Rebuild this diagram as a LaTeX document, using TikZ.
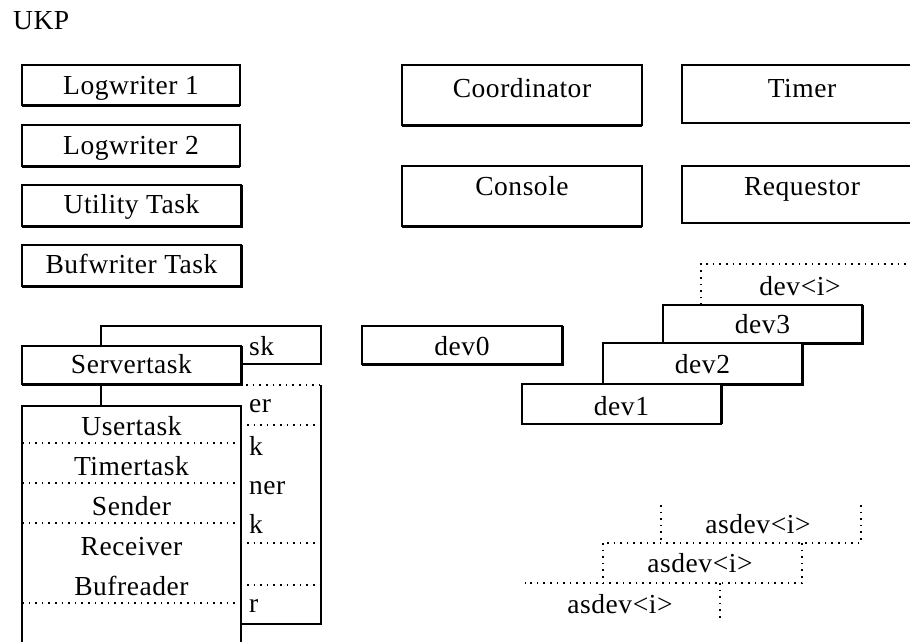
\documentclass[tikz,border=0pt]{standalone}
\usepackage{fontspec}
\setmainfont{Liberation Serif}[LetterSpace=2]
\usetikzlibrary{fit}
\tikzset{
  box/.style={draw, line width=1.2pt, fill=white, inner sep=0pt, outer sep=0pt},
  ghost/.style={inner sep=0pt, outer sep=0pt},
  txt/.style={font=\fontsize{27.5}{30}\selectfont, inner sep=0pt, anchor=base},
  ltxt/.style={txt, anchor=base west},
  dotl/.style={line width=1.2pt, dash pattern=on 1.6pt off 5pt},
  solidl/.style={line width=1.2pt},
  shd/.style={line width=1.6pt}
}
\newcommand\shB[1]{\draw[shd] ([yshift=-1.2pt]#1.south west) -- ([yshift=-1.2pt]#1.south east);}
\newcommand\shBR[1]{\draw[shd] ([yshift=-1.2pt]#1.south west) -- ([xshift=1.2pt,yshift=-1.2pt]#1.south east) -- ([xshift=1.2pt]#1.north east);}
\newcommand\shR[1]{\draw[shd] ([xshift=1.2pt]#1.south east) -- ([xshift=1.2pt]#1.north east);}
\begin{document}
\begin{tikzpicture}[x=1pt,y=-1pt]
\useasboundingbox (0,0) rectangle (910,642);
\clip (0,0) rectangle (910,642);
\fill[white] (0,0) rectangle (910,642);

% title
\node[ltxt] (ukp) at (13,30) {UKP};

% left column boxes
\node[box, fit={(22,65) (240,105)}] (lw1) {};
\shB{lw1}
\node[txt] at ([yshift=-30pt]lw1.north) {Logwriter 1};
\node[box, fit={(22,125) (240,166)}] (lw2) {};
\shB{lw2}
\node[txt] at ([yshift=-29pt]lw2.north) {Logwriter 2};
\node[box, fit={(22,185) (241,226)}] (util) {};
\shBR{util}
\node[txt] at ([yshift=-28pt]util.north) {Utility Task};
\node[box, fit={(22,245) (241,286)}] (bufw) {};
\shBR{bufw}
\node[txt] at ([yshift=-28pt]bufw.north) {Bufwriter Task};

% upper right boxes
\node[box, fit={(402,65) (642,125)}] (coord) {};
\shB{coord}
\node[txt] at ([yshift=-32pt]coord.north) {Coordinator};
\node[box, fit={(402,166) (642,226)}] (cons) {};
\shB{cons}
\node[txt] at ([yshift=-29pt]cons.north) {Console};
\node[box, fit={(682,65) (922,123)}] (timer) {};
\node[txt] at ([yshift=-32pt]timer.north) {Timer};
\node[box, fit={(682,166) (922,223)}] (req) {};
\node[txt] at ([yshift=-29pt]req.north) {Requestor};

% server task stack (back)
\node[box, fit={(101,326) (321,364)}] (backtop) {};
\node[ltxt] at (249,355) {sk};
\node[ghost, fit={(101,385) (321,624)}] (backbot) {};
\draw[solidl] (backbot.north west) -- (backbot.south west) -- (backbot.south east) -- (backbot.north east);
\draw[dotl] (backbot.north west) -- (backbot.north east);
\node[ltxt] at (249,412) {er};
\node[ltxt] at (249,455) {k};
\node[ltxt] at (249,494) {ner};
\node[ltxt] at (249,533) {k};
\node[ltxt] at (249,612) {r};
\draw[dotl] (247,425) -- (316,425);
\draw[dotl] (247,543) -- (316,543);
\draw[dotl] (247,585) -- (321,585);

% server task (front)
\node[box, fit={(22,346) (241,384)}] (serv) {};
\shBR{serv}
\node[txt] at ([yshift=-27pt]serv.north) {Servertask};
\node[box, fit={(22,406) (241,700)}] (front) {};
\node[txt] at ([yshift=-29pt]front.north) {Usertask};
\node[txt] at ([yshift=-69pt]front.north) {Timertask};
\node[txt] at ([yshift=-109pt]front.north) {Sender};
\node[txt] at ([yshift=-149pt]front.north) {Receiver};
\node[txt] at ([yshift=-189pt]front.north) {Bufreader};
\draw[dotl] (22,443) -- (241,443);
\draw[dotl] (22,483) -- (241,483);
\draw[dotl] (22,523) -- (241,523);
\draw[dotl] (22,603) -- (241,603);

% devices
\node[box, fit={(362,326) (562,364)}] (dev0) {};
\shBR{dev0}
\node[txt] at ([yshift=-29pt]dev0.north) {dev0};
\node[ghost, fit={(701,264) (930,305)}] (devi) {};
\draw[dotl] (devi.south west) -- (devi.north west) -- (devi.north east);
\node[txt] at (800,295) {dev\textless i\textgreater};
\node[box, fit={(663,305) (862,343)}] (dev3) {};
\shBR{dev3}
\node[txt] at ([yshift=-28pt]dev3.north) {dev3};
\node[box, fit={(603,343) (802,384)}] (dev2) {};
\shBR{dev2}
\node[txt] at ([yshift=-30pt]dev2.north) {dev2};
\node[box, fit={(522,384) (721,424)}] (dev1) {};
\shR{dev1}
\node[txt] at ([yshift=-31pt]dev1.north) {dev1};

% asdev stack (dotted)
\node[ghost, fit={(661,505) (861,543)}] (asA) {};
\node[ghost, fit={(603,543) (802,583)}] (asB) {};
\node[ghost, fit={(525,583) (720,620)}] (asC) {};
\draw[dotl] (asA.north west) -- (asA.south west);
\draw[dotl] (asA.north east) -- (asA.south east) -- (asB.north west);
\draw[dotl] (asB.north west) -- (asB.south west);
\draw[dotl] (asB.north east) -- (asB.south east) -- (asC.north west);
\draw[dotl] (asC.north east) -- (asC.south east);
\node[txt] at (758,533) {asdev\textless i\textgreater};
\node[txt] at (700,572) {asdev\textless i\textgreater};
\node[txt] at (620,613) {asdev\textless i\textgreater};
\end{tikzpicture}
\end{document}
